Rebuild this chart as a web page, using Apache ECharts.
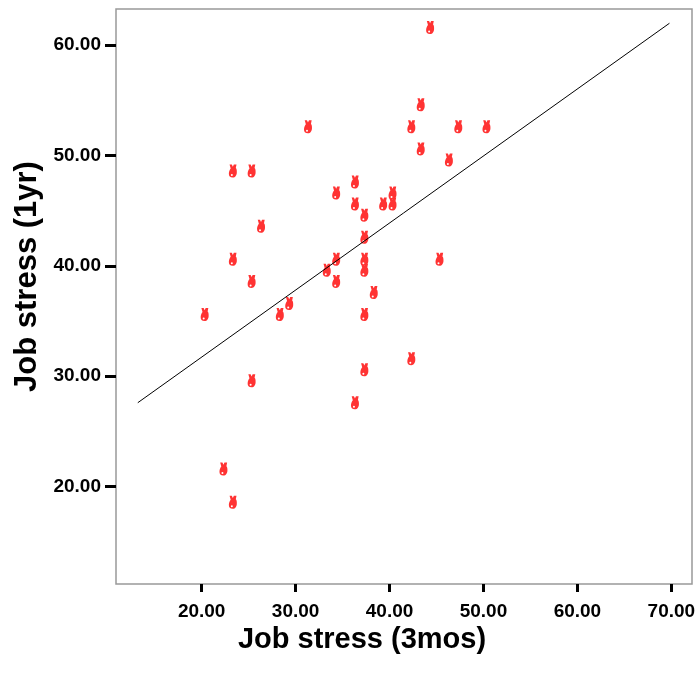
<!DOCTYPE html>
<html>
<head>
<meta charset="utf-8">
<title>Job stress (3mos) vs Job stress (1yr)</title>
<script src="https://cdn.jsdelivr.net/npm/echarts@6/dist/echarts.min.js"></script>
<style>
  html, body { margin: 0; padding: 0; background: #fff; }
  #chart { width: 700px; height: 679px; }
</style>
</head>
<body>
<div id="chart"></div>
<script>
// Job stress scores: 3 months (x) and 1 year (y), one entry per respondent
const stress3mos = [23, 25, 31, 44, 43, 42, 47, 50, 43, 46, 36, 34, 40, 36, 39, 40, 37, 26, 37,
                    23, 34, 37, 45, 33, 37, 25, 34, 38, 29, 28, 20, 37, 42, 37, 25, 36, 22, 23];
const stress1yr  = [48, 48, 52, 61, 54, 52, 52, 52, 50, 49, 47, 46, 46, 45, 45, 45, 44, 43, 42,
                    40, 40, 40, 40, 39, 39, 38, 38, 37, 36, 35, 35, 35, 31, 30, 29, 27, 21, 18];

// Fit line end points
const fitX = [13.2, 69.8];
const fitY = [27.6, 61.97];

// Tick values
const xTicks = [20, 30, 40, 50, 60, 70];
const yTicks = [20, 30, 40, 50, 60];

const points = stress3mos.map((x, i) => [x, stress1yr[i]]);
const fitLine = fitX.map((x, i) => [x, fitY[i]]);

const FONT = '"Liberation Sans", Arial, Helvetica, sans-serif';
const MARKER = 'path://M0.8,0 L3,0 L4,2.2 L5,0 L7.6,0 L6.9,3.6 C7.9,4.6 8,6.2 7.9,8.2 C7.7,10.6 6.6,13 3.9,13 C1.2,13 0,11.5 0.1,9 C0.2,7 0.9,5.4 1.9,4 Z';

const labelStyle = { fontFamily: FONT, fontWeight: 'bold', fontSize: 19, color: '#000' };

const chart = echarts.init(document.getElementById('chart'), null, { renderer: 'canvas' });
chart.setOption({
  animation: false,
  backgroundColor: '#fff',
  grid: {
    left: 116, top: 9, right: 8, bottom: 95,
    show: true, borderColor: '#999', borderWidth: 1.5, backgroundColor: 'transparent'
  },
  xAxis: {
    type: 'value', min: 10.88, max: 72.2,
    name: 'Job stress (3mos)', nameLocation: 'middle', nameGap: 30,
    nameTextStyle: { fontFamily: FONT, fontWeight: 'bold', fontSize: 29, color: '#000', padding: [0, 84, 0, 0] },
    axisLine: { show: false },
    splitLine: { show: false },
    axisTick: { show: true, customValues: xTicks, length: 8, lineStyle: { color: '#000', width: 3 } },
    axisLabel: Object.assign({ customValues: xTicks, margin: 18, formatter: v => v.toFixed(2) }, labelStyle)
  },
  yAxis: {
    type: 'value', min: 11.18, max: 63.26,
    name: 'Job stress (1yr)', nameLocation: 'middle', nameGap: 72,
    nameTextStyle: { fontFamily: FONT, fontWeight: 'bold', fontSize: 31, color: '#000', padding: [0, 0, 0, 40] },
    axisLine: { show: false },
    splitLine: { show: false },
    axisTick: { show: true, customValues: yTicks, length: 11, lineStyle: { color: '#000', width: 3 } },
    axisLabel: Object.assign({ customValues: yTicks, margin: 15, formatter: v => v.toFixed(2) }, labelStyle)
  },
  series: [
    {
      type: 'scatter', data: points, symbol: MARKER, symbolSize: [8, 13], symbolOffset: [3, -6.5],
      itemStyle: { color: '#ff3333', opacity: 1 }, z: 2, silent: true
    },
    {
      type: 'scatter', data: points, symbol: 'circle', symbolSize: 2, symbolOffset: [2, -2.5],
      itemStyle: { color: '#fff', opacity: 1 }, z: 3, silent: true
    },
    {
      type: 'line', data: fitLine, symbol: 'none', lineStyle: { color: '#000', width: 1 },
      z: 4, silent: true
    }
  ]
});
</script>
</body>
</html>
